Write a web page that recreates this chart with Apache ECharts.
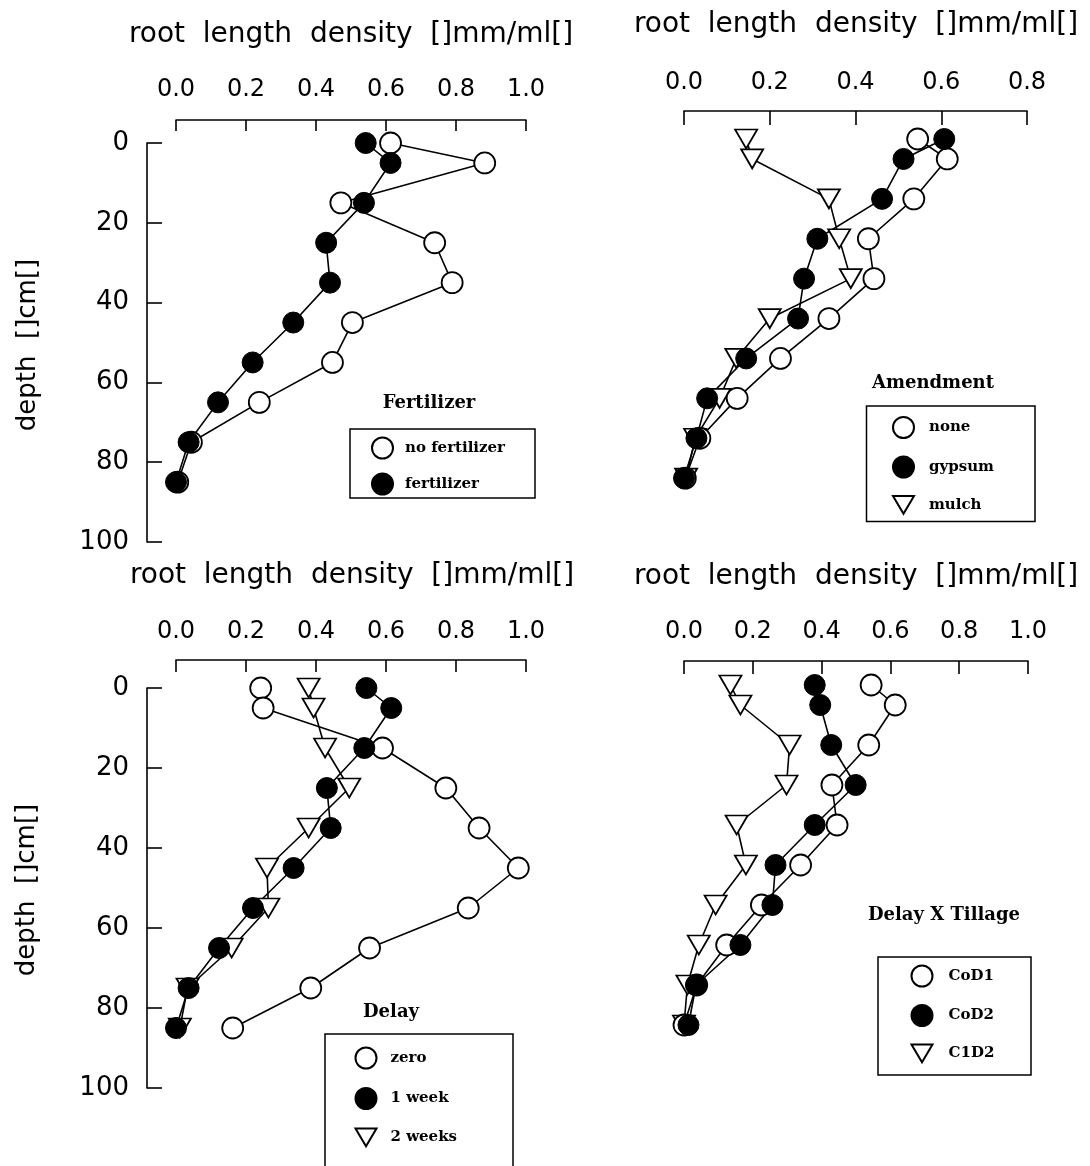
<!DOCTYPE html>
<html>
<head>
<meta charset="utf-8">
<script src="https://cdn.jsdelivr.net/npm/echarts@6/dist/echarts.min.js"></script>
<style>
html,body{margin:0;padding:0;background:#fff;}
#chart{width:1090px;height:1166px;}
</style>
</head>
<body>
<div id="chart"></div>
<script>
// ---- data ----
const depths = [0, 5, 15, 25, 35, 45, 55, 65, 75, 85];
const xTicks = [0.0, 0.2, 0.4, 0.6, 0.8, 1.0];
const yTicks = [0, 20, 40, 60, 80, 100];

const fertNone   = [0.613, 0.882, 0.471, 0.739, 0.789, 0.504, 0.447, 0.238, 0.044, 0.005];
const fertYes    = [0.542, 0.613, 0.537, 0.429, 0.440, 0.335, 0.219, 0.120, 0.036, 0.000];

const amendNone   = [0.545, 0.614, 0.536, 0.430, 0.443, 0.338, 0.225, 0.124, 0.037, 0.003];
const amendGypsum = [0.607, 0.512, 0.462, 0.311, 0.280, 0.266, 0.145, 0.054, 0.029, 0.000];
const amendMulch  = [0.145, 0.159, 0.338, 0.362, 0.389, 0.200, 0.122, 0.083, 0.026, 0.005];

const delayZero = [0.242, 0.249, 0.590, 0.771, 0.866, 0.978, 0.835, 0.553, 0.385, 0.162];
const delay1    = [0.544, 0.615, 0.538, 0.431, 0.442, 0.336, 0.220, 0.123, 0.036, 0.000];
const delay2    = [0.379, 0.393, 0.426, 0.495, 0.379, 0.260, 0.264, 0.159, 0.033, 0.011];

const tillCoD1 = [0.544, 0.614, 0.537, 0.430, 0.445, 0.339, 0.225, 0.124, 0.037, 0.000];
const tillCoD2 = [0.380, 0.396, 0.428, 0.499, 0.380, 0.266, 0.257, 0.164, 0.035, 0.013];
const tillC1D2 = [0.135, 0.164, 0.307, 0.298, 0.153, 0.180, 0.092, 0.043, 0.010, 0.000];

const xTitle = 'root  length  density  []mm/ml[]';
const yTitle = 'depth  []cm[]';

// ---- styling helpers ----
const TRI = 'path://M0,0L20,0L10,17Z';
const SANS = 'DejaVu Sans';
const SERIF = 'DejaVu Serif';

function ser(name, idx, vals, kind) {
  return {
    type: 'line', name: name, xAxisIndex: idx, yAxisIndex: idx,
    data: vals.map((v, i) => [v, depths[i]]),
    symbol: kind === 'tri' ? TRI : 'circle',
    symbolSize: kind === 'tri' ? [22, 19] : 21,
    showSymbol: true,
    itemStyle: kind === 'filled'
      ? { color: '#000', borderColor: '#000', borderWidth: 1 }
      : { color: '#fff', borderColor: '#000', borderWidth: 1.8 },
    lineStyle: { color: '#000', width: 1.6 },
    emphasis: { disabled: true },
    silent: true,
    animation: false
  };
}

function xAx(idx, max, offset, tickLen, margin) {
  return {
    type: 'value', gridIndex: idx, position: 'top', offset: offset,
    min: 0, max: max, interval: 0.2,
    axisLine: { show: true, onZero: false, lineStyle: { color: '#000', width: 1.6 } },
    axisTick: { show: true, inside: true, length: tickLen, lineStyle: { color: '#000', width: 1.6 } },
    axisLabel: { show: true, margin: margin, color: '#000', fontFamily: SANS, fontSize: 24,
      formatter: v => Number(v).toFixed(1) },
    splitLine: { show: false }
  };
}
function yAx(idx, show) {
  return {
    type: 'value', gridIndex: idx, position: 'left', offset: 29, inverse: true,
    min: yTicks[0], max: yTicks[yTicks.length - 1], interval: 20, show: show,
    axisLine: { show: true, onZero: false, lineStyle: { color: '#000', width: 1.6 } },
    axisTick: { show: true, inside: true, length: 15, lineStyle: { color: '#000', width: 1.6 } },
    axisLabel: { show: true, margin: 18, color: '#000', fontFamily: SANS, fontSize: 26 },
    splitLine: { show: false }
  };
}
function leg(left, top, gap, names, icons, textGap) {
  return {
    orient: 'vertical', left: left, top: top, padding: 0, itemGap: gap,
    itemWidth: 21, itemHeight: 21, selectedMode: false,
    data: names.map((n, i) => ({ name: n, icon: icons[i] })),
    textStyle: { fontFamily: SERIF, fontWeight: 'bold', fontSize: 15, color: '#000',
      padding: [0, 0, 0, textGap] }
  };
}
function txt(x, y, s, size, font, weight, rot) {
  return { type: 'text', x: x, y: y, rotation: rot || 0, silent: true,
    style: { text: s, fill: '#000', font: (weight || 'normal') + ' ' + size + 'px "' + font + '"',
      textAlign: 'center', textVerticalAlign: 'middle' } };
}
function box(x, y, w, h) {
  return { type: 'rect', silent: true, shape: { x: x, y: y, width: w, height: h },
    style: { fill: 'none', stroke: '#000', lineWidth: 1.5 } };
}

const CIRC = 'circle';
const option = {
  backgroundColor: '#fff',
  animation: false,
  grid: [
    { left: 176, top: 143, width: 350, height: 399 },
    { left: 684, top: 139, width: 343, height: 399 },
    { left: 176, top: 688, width: 350, height: 400 },
    { left: 684, top: 685, width: 344, height: 400 }
  ],
  xAxis: [
    xAx(0, xTicks[5], 23, 11, 18),
    xAx(1, xTicks[4], 28, 14, 16),
    xAx(2, xTicks[5], 28, 12, 16),
    xAx(3, xTicks[5], 24, 13, 17)
  ],
  yAxis: [yAx(0, true), yAx(1, false), yAx(2, true), yAx(3, false)],
  legend: [
    leg(371, 436.5, 13, ['no fertilizer', 'fertilizer'], [CIRC, CIRC], 7),
    leg(892, 416, 16.5, ['none', 'gypsum', 'mulch'], [CIRC, CIRC, TRI], 10),
    leg(354.5, 1046.5, 17.5, ['zero', '1 week', '2 weeks'], [CIRC, CIRC, TRI], 9),
    leg(910.5, 964.5, 16.5, ['CoD1', 'CoD2', 'C1D2'], [CIRC, CIRC, TRI], 11)
  ],
  series: [
    ser('no fertilizer', 0, fertNone, 'open'),
    ser('fertilizer', 0, fertYes, 'filled'),
    ser('mulch', 1, amendMulch, 'tri'),
    ser('none', 1, amendNone, 'open'),
    ser('gypsum', 1, amendGypsum, 'filled'),
    ser('2 weeks', 2, delay2, 'tri'),
    ser('zero', 2, delayZero, 'open'),
    ser('1 week', 2, delay1, 'filled'),
    ser('C1D2', 3, tillC1D2, 'tri'),
    ser('CoD1', 3, tillCoD1, 'open'),
    ser('CoD2', 3, tillCoD2, 'filled')
  ],
  graphic: [
    txt(351, 34.5, xTitle, 28, SANS),
    txt(856, 24.5, xTitle, 28, SANS),
    txt(352, 576, xTitle, 28, SANS),
    txt(856, 577, xTitle, 28, SANS),
    txt(28, 345, yTitle, 26, SANS, 'normal', Math.PI / 2),
    txt(27, 890, yTitle, 26, SANS, 'normal', Math.PI / 2),
    txt(429, 403, 'Fertilizer', 18, SERIF, 'bold'),
    txt(933, 383, 'Amendment', 18, SERIF, 'bold'),
    txt(391, 1012, 'Delay', 18, SERIF, 'bold'),
    txt(944, 915, 'Delay X Tillage', 18, SERIF, 'bold'),
    box(350, 429, 185, 69),
    box(866.5, 406, 168.5, 115.5),
    box(325, 1034, 188, 140),
    box(878, 957, 153, 118)
  ]
};

const chart = echarts.init(document.getElementById('chart'), null, { renderer: 'canvas' });
chart.setOption(option);
</script>
</body>
</html>
